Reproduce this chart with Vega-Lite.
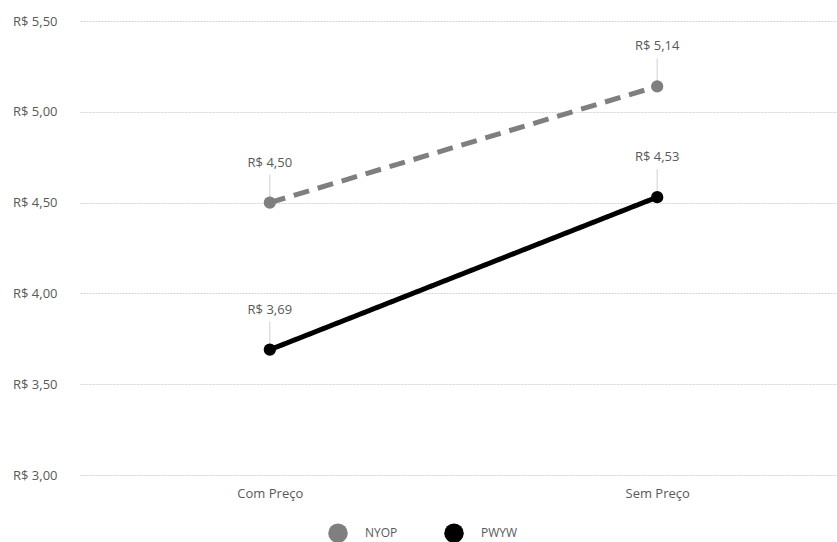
{
  "$schema": "https://vega.github.io/schema/vega-lite/v6.json",
  "autosize": "none",
  "width": 767,
  "height": 454,
  "padding": {"left": 80, "top": 21, "right": 0, "bottom": 67},
  "background": "white",
  "config": {
    "view": {"stroke": null},
    "font": "Open Sans",
    "axis": {"labelFont": "Open Sans", "labelColor": "#595959", "labelFontSize": 13}
  },
  "data": {
    "values": [
      {"cond": "Com Preço", "serie": "NYOP", "valor": 4.50, "rotulo": "R$ 4,50"},
      {"cond": "Sem Preço", "serie": "NYOP", "valor": 5.14, "rotulo": "R$ 5,14"},
      {"cond": "Com Preço", "serie": "PWYW", "valor": 3.69, "rotulo": "R$ 3,69"},
      {"cond": "Sem Preço", "serie": "PWYW", "valor": 4.53, "rotulo": "R$ 4,53"}
    ]
  },
  "encoding": {
    "x": {
      "field": "cond", "type": "nominal", "sort": ["Com Preço", "Sem Preço"],
      "scale": {"type": "point", "padding": 0.49},
      "axis": {"title": null, "labelAngle": 0, "domain": false, "ticks": false, "labelPadding": 12, "grid": false}
    },
    "y": {
      "field": "valor", "type": "quantitative",
      "scale": {"domain": [3, 5.5], "nice": false, "zero": false},
      "axis": {
        "title": null, "values": [3, 3.5, 4, 4.5, 5, 5.5], "domain": false, "ticks": false,
        "labelPadding": 23, "gridColor": "#d4d4d4", "gridDash": [2, 1], "gridWidth": 1,
        "labelExpr": "'R$ ' + replace(format(datum.value, '.2f'), '.', ',')"
      }
    }
  },
  "layer": [
    {
      "mark": {"type": "rule", "color": "#d0d0d0", "strokeWidth": 1, "y2Offset": -28},
      "encoding": {"y2": {"field": "valor"}}
    },
    {
      "mark": {"type": "line", "strokeWidth": 5},
      "encoding": {
        "color": {
          "field": "serie", "type": "nominal",
          "scale": {"domain": ["NYOP", "PWYW"], "range": ["#7f7f7f", "#000000"]},
          "legend": {
            "title": null, "orient": "none", "direction": "horizontal",
            "legendX": 248, "legendY": 502,
            "symbolType": "circle", "symbolSize": 380, "symbolStrokeWidth": 0,
            "labelFontSize": 12, "labelColor": "#595959", "labelFont": "Open Sans",
            "columnPadding": 46, "labelOffset": 17
          }
        },
        "strokeDash": {
          "field": "serie", "type": "nominal",
          "scale": {"domain": ["NYOP", "PWYW"], "range": [[16, 9], [1, 0]]},
          "legend": null
        }
      }
    },
    {
      "mark": {"type": "circle", "size": 150, "opacity": 1},
      "encoding": {
        "color": {"field": "serie", "type": "nominal", "legend": null}
      }
    },
    {
      "mark": {"type": "text", "dy": -40, "fontSize": 13, "color": "#595959", "font": "Open Sans"},
      "encoding": {
        "text": {"field": "rotulo", "type": "nominal"}
      }
    }
  ]
}
